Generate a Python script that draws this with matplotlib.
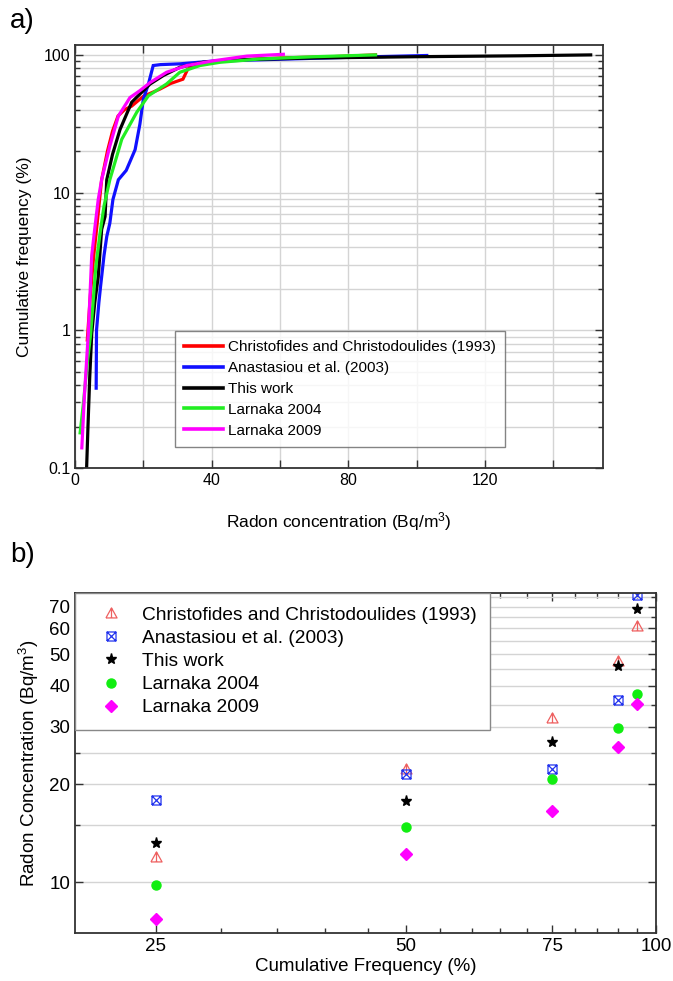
import numpy as np
import matplotlib
matplotlib.use("Agg")
import matplotlib.pyplot as plt
from matplotlib.path import Path
from matplotlib.ticker import FixedLocator, FixedFormatter, MultipleLocator, FuncFormatter, NullFormatter

plt.rcParams['font.family'] = ['Liberation Sans', 'DejaVu Sans']
plt.rcParams['mathtext.default'] = 'regular'

# --- panel a: cumulative distributions ---
red_x = [3.6, 4.5, 5.5, 6.5, 7.8, 9.5, 11.0, 12.6, 14.5, 16.6, 20.0, 24.9, 28.0, 31.6, 33.0, 36, 45, 60, 75, 88]
red_y = [0.85, 1.8, 3.5, 6, 12.4, 20, 28, 36, 40, 42.5, 50, 56.5, 62, 66.6, 78.7, 86, 91, 95, 97, 100]

blue_x = [6.2, 6.3, 7.0, 7.5, 8.5, 9.3, 10.2, 11.1, 12.7, 15.0, 17.6, 19.0, 20.0, 21.5, 22.9, 25, 30.7, 40, 60, 80, 103]
blue_y = [0.38, 1.0, 1.6, 2.1, 3.5, 4.8, 6.0, 8.9, 12.4, 14.5, 20.5, 31.4, 47.6, 61.5, 83.7, 85, 86.1, 90, 93, 96, 99]

black_x = [3.4, 3.8, 4.3, 4.9, 5.8, 6.8, 7.8, 8.8, 9.3, 11.0, 13.2, 16.6, 19.5, 22.0, 25.9, 30.7, 37.5, 46.3, 70, 100, 130, 151]
black_y = [0.1, 0.2, 0.45, 0.95, 1.6, 2.45, 5.4, 6.7, 12.4, 19, 28.8, 45.3, 53.4, 61.5, 70.9, 81.3, 88.4, 92.1, 95, 97, 98.5, 100]

green_x = [1.5, 2.5, 3.5, 4.6, 6.1, 7.3, 8.5, 10.2, 13.7, 18.1, 21.5, 26.8, 30.7, 36.6, 42.5, 54.2, 70, 88]
green_y = [0.18, 0.3, 0.55, 0.95, 2.9, 5.0, 8.0, 12.4, 24.4, 38.4, 50.5, 61.5, 74.8, 83.7, 88.4, 93.4, 97, 100]

mag_x = [2.0, 2.8, 3.9, 4.9, 5.8, 6.8, 7.8, 10.2, 12.7, 16.1, 19.0, 22.0, 26.8, 32.7, 40.5, 50.3, 61]
mag_y = [0.14, 0.35, 0.95, 3.5, 5.5, 8.9, 12.4, 21.8, 36, 49, 55, 63, 74.8, 83.7, 90.6, 98, 101]

labels = ["Christofides and Christodoulides (1993)", "Anastasiou et al. (2003)",
          "This work", "Larnaka 2004", "Larnaka 2009"]

# --- panel b: percentiles ---
pct = [25, 50, 75, 90, 95]
chr_vals = [12.0, 22.2, 32.0, 47.5, 61.0]
ana_vals = [17.9, 21.5, 22.2, 36.1, 76.0]
this_vals = [13.2, 17.7, 27.0, 46.0, 69.0]
l2004_vals = [9.8, 14.8, 20.8, 29.7, 37.9]
l2009_vals = [7.7, 12.2, 16.5, 26.0, 35.3]

# custom markers
tri_mark = Path([(-1, -0.8), (1, -0.8), (0, 1), (-1, -0.8), (0, 1), (0, -0.8)],
                [Path.MOVETO, Path.LINETO, Path.LINETO, Path.LINETO, Path.MOVETO, Path.LINETO])
box_mark = Path([(-1, -1), (1, -1), (1, 1), (-1, 1), (-1, -1), (-1, -1), (1, 1), (-1, 1), (1, -1)],
                [Path.MOVETO, Path.LINETO, Path.LINETO, Path.LINETO, Path.LINETO,
                 Path.MOVETO, Path.LINETO, Path.MOVETO, Path.LINETO])

spine_c = '#333333'
grid_c = '#d4d4d4'

fig = plt.figure(figsize=(6.73, 9.81), dpi=100)

# ---------------- panel a ----------------
ax1 = fig.add_axes([75/673, 1-468/981, 528/673, 423/981])
ax1.set_yscale('log')
cols = ['#ff0000', '#1010ff', '#000000', '#22ee22', '#ff00ff']
for xs, ys, c, lab in zip([red_x, blue_x, black_x, green_x, mag_x],
                          [red_y, blue_y, black_y, green_y, mag_y], cols, labels):
    ax1.plot(xs, ys, color=c, lw=2.3, label=lab, solid_joinstyle='miter')
ax1.set_xlim(0, 154.6)
ax1.set_ylim(0.1, 118)
ax1.xaxis.set_major_locator(MultipleLocator(20))
ax1.xaxis.set_major_formatter(FuncFormatter(lambda v, p: '%d' % v if int(round(v)) % 40 == 0 else ''))
ax1.yaxis.set_major_locator(FixedLocator([0.1, 1, 10, 100]))
ax1.yaxis.set_major_formatter(FixedFormatter(['0.1', '1', '10', '100']))
ax1.yaxis.set_minor_formatter(NullFormatter())
ax1.grid(True, which='both', color=grid_c, lw=1.0)
ax1.set_axisbelow(True)
ax1.tick_params(which='both', direction='in', top=True, right=True, labelsize=11.5, color=spine_c)
ax1.tick_params(which='major', length=6, width=1)
ax1.tick_params(which='minor', length=3.5, width=1)
for s in ax1.spines.values():
    s.set_color(spine_c)
    s.set_linewidth(1.3)
ax1.set_xlabel('Radon concentration (Bq/m$^3$)', fontsize=12.5, labelpad=16)
ax1.set_ylabel('Cumulative frequency (%)', fontsize=12.5, labelpad=8)
leg1 = ax1.legend(loc='lower left', bbox_to_anchor=(0.19, 0.05), fontsize=11, frameon=True,
                  fancybox=False, edgecolor='#666666', handlelength=2.5, handletextpad=0.35,
                  labelspacing=0.45, borderpad=0.6, borderaxespad=0)
leg1.get_frame().set_linewidth(1.0)
for ln in leg1.get_lines():
    ln.set_linewidth(2.6)

# ---------------- panel b ----------------
ax2 = fig.add_axes([75/673, 1-933/981, 581/673, 340/981])
ax2.set_xscale('log')
ax2.set_yscale('log')
ax2.plot(pct, chr_vals, ls='none', marker=tri_mark, ms=8, mfc='none', mec='#ee6060', mew=0.9, label=labels[0])
ax2.plot(pct, ana_vals, ls='none', marker=box_mark, ms=6.5, mfc='none', mec='#2233ee', mew=0.9, label=labels[1])
ax2.plot(pct, this_vals, ls='none', marker='*', ms=8, color='black', label=labels[2])
ax2.plot(pct, l2004_vals, ls='none', marker='o', ms=6.5, color='#11ee11', label=labels[3])
ax2.plot(pct, l2009_vals, ls='none', marker='D', ms=6, color='#ff00ff', label=labels[4])
ax2.set_xlim(20, 100)
ax2.set_ylim(7.0, 77)
ax2.xaxis.set_major_locator(FixedLocator([25, 50, 75, 100]))
ax2.xaxis.set_major_formatter(FixedFormatter(['25', '50', '75', '100']))
ax2.xaxis.set_minor_locator(FixedLocator([30, 35, 40, 45, 55, 60, 65, 70, 80, 85, 90, 95]))
ax2.xaxis.set_minor_formatter(NullFormatter())
ax2.yaxis.set_major_locator(FixedLocator([10, 20, 30, 40, 50, 60, 70]))
ax2.yaxis.set_major_formatter(FixedFormatter(['10', '20', '30', '40', '50', '60', '70']))
ax2.yaxis.set_minor_locator(FixedLocator([15, 25, 35, 45, 55, 65, 75]))
ax2.yaxis.set_minor_formatter(NullFormatter())
ax2.grid(True, axis='y', which='both', color=grid_c, lw=1.0)
ax2.set_axisbelow(True)
ax2.tick_params(which='both', direction='in', top=True, right=True, labelsize=13.5, color=spine_c)
ax2.tick_params(which='major', length=6, width=1)
ax2.tick_params(which='minor', length=3.5, width=1)
for s in ax2.spines.values():
    s.set_color(spine_c)
    s.set_linewidth(1.3)
ax2.set_xlabel('Cumulative Frequency (%)', fontsize=13.5, labelpad=2)
ax2.set_ylabel('Radon Concentration (Bq/m$^3$)', fontsize=13.5, labelpad=6)
leg2 = ax2.legend(loc='upper left', bbox_to_anchor=(0, 1), fontsize=13.8, frameon=True,
                  fancybox=False, edgecolor='#888888', handlelength=2.4, handletextpad=0.4,
                  labelspacing=0.3, borderpad=0.7, borderaxespad=0, framealpha=1)
leg2.get_frame().set_linewidth(1.0)
# stretch legend box a bit to the right like the reference
leg2._legend_box.align = 'left'

fig.text(0.015, 0.992, 'a)', fontsize=20, va='top', ha='left')
fig.text(0.015, 0.447, 'b)', fontsize=20, va='top', ha='left')

fig.savefig('out.png', dpi=100)
